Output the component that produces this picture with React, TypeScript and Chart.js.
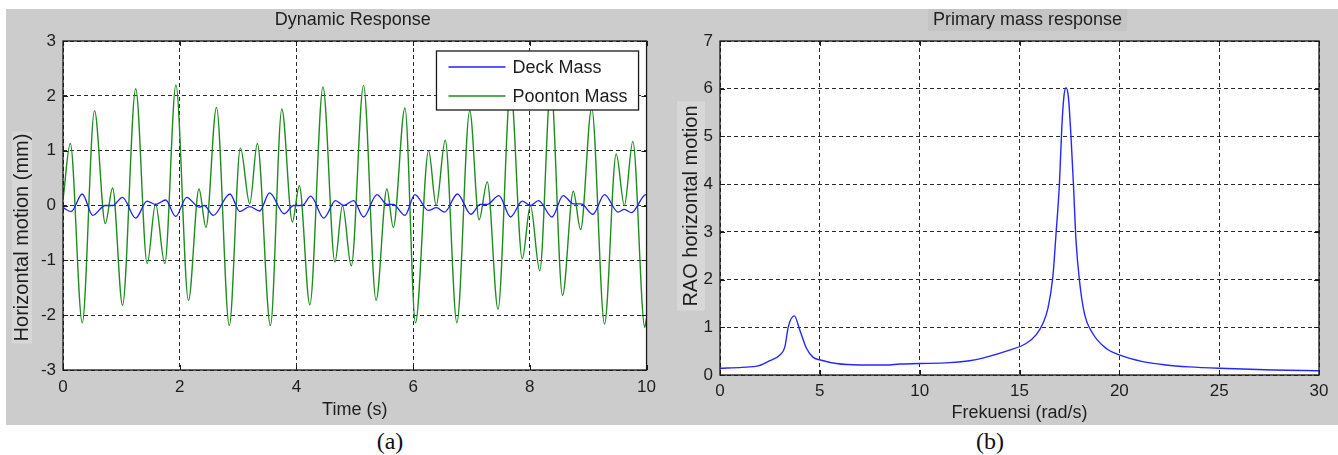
import React, { useEffect, useRef } from "react";
import { Chart, registerables } from "chart.js";

Chart.register(...registerables);

// ---------- data: panel (a) Dynamic Response ----------
const timeRange = [0, 10];
const motionRange = [-3, 3];

const deckTime = [0, 0.14, 0.33, 0.51, 0.72, 0.85, 1.02, 1.246, 1.44, 1.586, 1.76, 1.93, 2.12, 2.33, 2.42, 2.575, 2.86, 3.03, 3.2, 3.37, 3.54, 3.79, 3.95, 4.1, 4.245, 4.47, 4.67, 4.81, 4.98, 5.15, 5.38, 5.55, 5.66, 5.86, 6.03, 6.26, 6.4, 6.54, 6.76, 6.99, 7.15, 7.27, 7.47, 7.67, 7.87, 8.01, 8.15, 8.38, 8.57, 8.75, 8.88, 9.08, 9.28, 9.51, 9.62, 9.74, 9.99, 10];
const deckMotion = [-0.04, -0.11, 0.21, -0.18, 0.0, 0.0, 0.15, -0.23, 0.08, 0.02, 0.1, -0.2, 0.15, -0.03, 0.0, -0.18, 0.21, -0.11, -0.02, -0.1, 0.23, -0.15, 0.0, 0.0, 0.17, -0.23, 0.09, 0.0, 0.09, -0.21, 0.2, 0.02, 0.02, -0.18, 0.2, -0.09, -0.04, -0.12, 0.21, -0.16, 0.02, 0.02, 0.18, -0.21, 0.08, 0.0, 0.09, -0.21, 0.18, 0.03, 0.03, -0.16, 0.2, -0.12, -0.07, -0.13, 0.2, 0.2];

const pontoonTime = [0, 0.125, 0.33, 0.54, 0.725, 0.85, 1.02, 1.246, 1.443, 1.586, 1.744, 1.935, 2.15, 2.33, 2.45, 2.63, 2.85, 3.04, 3.2, 3.33, 3.555, 3.75, 3.93, 4.05, 4.23, 4.455, 4.66, 4.79, 4.94, 5.15, 5.365, 5.55, 5.66, 5.86, 6.04, 6.265, 6.395, 6.55, 6.75, 6.97, 7.13, 7.27, 7.455, 7.67, 7.87, 8.01, 8.17, 8.36, 8.56, 8.745, 8.87, 9.06, 9.28, 9.48, 9.62, 9.765, 9.97, 10];
const pontoonMotion = [0.1, 1.13, -2.14, 1.73, -0.33, 0.32, -1.82, 2.13, -1.06, 0.03, -1.06, 2.2, -1.73, 0.3, -0.4, 1.79, -2.19, 1.05, 0.03, 1.13, -2.19, 1.76, -0.3, 0.36, -1.81, 2.16, -1.03, 0.0, -1.1, 2.19, -1.73, 0.3, -0.4, 1.78, -2.14, 1.0, 0.0, 1.19, -2.14, 1.73, -0.26, 0.43, -1.89, 2.15, -0.97, 0.0, -1.19, 2.2, -1.64, 0.26, -0.44, 1.78, -2.16, 0.94, 0.0, 1.17, -2.22, -2.05];

// ---------- data: panel (b) Primary mass response ----------
const freqRange = [0, 30];
const raoRange = [0, 7];
const frequency = [0, 1.1, 1.9, 2.4, 3.0, 3.25, 3.42, 3.72, 4.0, 4.33, 4.67, 5.08, 5.83, 7.0, 8.33, 9.0, 10.0, 11.5, 12.5, 13.2, 14.5, 15.33, 15.83, 16.17, 16.42, 16.67, 16.83, 17.0, 17.12, 17.22, 17.33, 17.45, 17.58, 17.7, 17.83, 18.0, 18.25, 18.67, 19.33, 20.0, 21.17, 22.33, 23.5, 25.0, 27.7, 30];
const raoMotion = [0.14, 0.16, 0.19, 0.28, 0.42, 0.59, 1.01, 1.24, 0.94, 0.56, 0.37, 0.31, 0.24, 0.21, 0.21, 0.23, 0.24, 0.26, 0.3, 0.36, 0.52, 0.66, 0.84, 1.08, 1.39, 2.06, 2.96, 4.01, 5.2, 5.82, 6.02, 5.82, 4.99, 4.01, 2.82, 1.99, 1.29, 0.87, 0.56, 0.42, 0.28, 0.21, 0.17, 0.14, 0.105, 0.09];

const FAMILY = "'Liberation Sans', Arial, Helvetica, sans-serif";
const TEXT = "#1e1e1e";

const framePlugin = {
  id: "matlabFrame",
  beforeDraw(chart: any, _args: any, o: any) {
    const { ctx, chartArea: a } = chart;
    ctx.save();
    ctx.fillStyle = "#ffffff";
    ctx.fillRect(a.left, a.top, a.right - a.left, a.bottom - a.top);
    const cx = (a.left + a.right) / 2;
    if (o.titleBox) {
      ctx.font = `18px ${FAMILY}`;
      const w = ctx.measureText(o.title).width;
      ctx.fillStyle = o.titleBox;
      ctx.fillRect(cx + o.titleDx - w / 2 - 5, 0, w + 10, 22);
    }
    if (o.yBox) {
      ctx.font = `20px ${FAMILY}`;
      const w = ctx.measureText(o.yTitle).width;
      const yx = a.left + o.yDx;
      const yy = (a.top + a.bottom) / 2 + o.yDy;
      ctx.fillStyle = o.yBox;
      ctx.fillRect(yx - 10 - o.yPadX, yy - w / 2 - o.yPadY, 20 + 2 * o.yPadX, w + 2 * o.yPadY);
    }
    ctx.restore();
  },
  afterDraw(chart: any, _args: any, o: any) {
    const { ctx, chartArea: a, scales } = chart;
    ctx.save();
    // inward tick marks
    ctx.strokeStyle = "#1a1a1a";
    ctx.lineWidth = 1;
    ctx.setLineDash([]);
    scales.x.ticks.forEach((t: any) => {
      const px = Math.round(scales.x.getPixelForValue(t.value)) + 0.5;
      ctx.beginPath();
      ctx.moveTo(px, a.bottom);
      ctx.lineTo(px, a.bottom - 5);
      ctx.moveTo(px, a.top);
      ctx.lineTo(px, a.top + 5);
      ctx.stroke();
    });
    scales.y.ticks.forEach((t: any) => {
      const py = Math.round(scales.y.getPixelForValue(t.value)) + 0.5;
      ctx.beginPath();
      ctx.moveTo(a.left, py);
      ctx.lineTo(a.left + 5, py);
      ctx.moveTo(a.right, py);
      ctx.lineTo(a.right - 5, py);
      ctx.stroke();
    });
    // box
    ctx.lineWidth = 1.3;
    ctx.strokeStyle = "#1a1a1a";
    ctx.strokeRect(a.left, a.top, a.right - a.left, a.bottom - a.top);

    ctx.fillStyle = TEXT;
    ctx.textAlign = "center";
    ctx.textBaseline = "middle";
    const cx = (a.left + a.right) / 2;
    ctx.font = `18px ${FAMILY}`;
    ctx.fillText(o.title, cx + o.titleDx, a.top - 21);
    ctx.fillText(o.xTitle, cx, a.bottom + o.xTitleDy);
    ctx.save();
    ctx.translate(a.left + o.yDx, (a.top + a.bottom) / 2 + o.yDy);
    ctx.rotate(-Math.PI / 2);
    ctx.font = `20px ${FAMILY}`;
    ctx.fillText(o.yTitle, 0, 0);
    ctx.restore();

    if (o.legend) {
      ctx.font = `18px ${FAMILY}`;
      const ds = chart.data.datasets;
      let maxW = 0;
      ds.forEach((d: any) => (maxW = Math.max(maxW, ctx.measureText(d.label).width)));
      const w = 76 + maxW + 11;
      const h = 59;
      const bx = a.right - 8 - w;
      const by = a.top + 10;
      ctx.fillStyle = "#ffffff";
      ctx.fillRect(bx, by, w, h);
      ctx.lineWidth = 1.3;
      ctx.strokeStyle = "#1a1a1a";
      ctx.strokeRect(bx, by, w, h);
      ds.forEach((d: any, i: number) => {
        const ly = by + 16 + i * 29;
        ctx.strokeStyle = d.borderColor;
        ctx.lineWidth = 1.5;
        ctx.beginPath();
        ctx.moveTo(bx + 12, ly);
        ctx.lineTo(bx + 69, ly);
        ctx.stroke();
        ctx.fillStyle = TEXT;
        ctx.textAlign = "left";
        ctx.fillText(d.label, bx + 76, ly + 1);
      });
    }
    ctx.restore();
  },
};

function axisOptions(range: number[], step: number, pad: number, size: number, horizontal: boolean) {
  return {
    type: "linear" as const,
    min: range[0],
    max: range[1],
    ticks: {
      stepSize: step,
      padding: pad,
      color: TEXT,
      font: { family: FAMILY, size: 17 },
      maxRotation: 0,
      autoSkip: false,
    },
    grid: { color: "#2a2a2a", lineWidth: 1, drawTicks: false },
    border: { display: false, dash: [4, 3] },
    afterFit(s: any) {
      if (horizontal) s.height = size;
      else s.width = size;
    },
  };
}

function toPoints(xs: number[], ys: number[]) {
  return xs.map((x, i) => ({ x, y: ys[i] }));
}

export default function App() {
  const leftRef = useRef<HTMLCanvasElement | null>(null);
  const rightRef = useRef<HTMLCanvasElement | null>(null);

  useEffect(() => {
    const left = new Chart(leftRef.current as HTMLCanvasElement, {
      type: "line",
      data: {
        datasets: [
          {
            label: "Deck Mass",
            data: toPoints(deckTime, deckMotion),
            borderColor: "#1f1fff",
            borderWidth: 1.3,
            pointRadius: 0,
            cubicInterpolationMode: "monotone",
            fill: false,
          },
          {
            label: "Poonton Mass",
            data: toPoints(pontoonTime, pontoonMotion),
            borderColor: "#1e8c1e",
            borderWidth: 1.4,
            pointRadius: 0,
            cubicInterpolationMode: "monotone",
            fill: false,
          },
        ],
      },
      options: {
        responsive: false,
        animation: false,
        devicePixelRatio: 1,
        layout: { padding: { top: 32, right: 10, left: 0, bottom: 0 } },
        scales: {
          x: axisOptions(timeRange, 2, 7, 55, true),
          y: axisOptions(motionRange, 1, 7, 57, false),
        },
        plugins: {
          legend: { display: false },
          tooltip: { enabled: false },
          matlabFrame: {
            title: "Dynamic Response",
            titleDx: -2,
            xTitle: "Time (s)",
            xTitleDy: 40,
            yTitle: "Horizontal motion (mm)",
            yDx: -41,
            yDy: 32,
            yBox: "#d7d7d7",
            yPadX: 0,
            yPadY: 2,
            legend: true,
          },
        } as any,
      },
      plugins: [framePlugin],
    } as any);

    const right = new Chart(rightRef.current as HTMLCanvasElement, {
      type: "line",
      data: {
        datasets: [
          {
            label: "RAO",
            data: toPoints(frequency, raoMotion),
            borderColor: "#2626ff",
            borderWidth: 1.4,
            pointRadius: 0,
            cubicInterpolationMode: "monotone",
            fill: false,
          },
        ],
      },
      options: {
        responsive: false,
        animation: false,
        devicePixelRatio: 1,
        layout: { padding: { top: 32, right: 19, left: 0, bottom: 0 } },
        scales: {
          x: axisOptions(freqRange, 5, 6, 50, true),
          y: axisOptions(raoRange, 1, 7, 57, false),
        },
        plugins: {
          legend: { display: false },
          tooltip: { enabled: false },
          matlabFrame: {
            title: "Primary mass response",
            titleDx: 8,
            titleBox: "#c4c4c4",
            xTitle: "Frekuensi (rad/s)",
            xTitleDy: 38,
            yTitle: "RAO horizontal motion",
            yDx: -29,
            yDy: -2,
            yBox: "#d7d7d7",
            yPadX: 4,
            yPadY: 4,
            legend: false,
          },
        } as any,
      },
      plugins: [framePlugin],
    } as any);

    return () => {
      left.destroy();
      right.destroy();
    };
  }, []);

  const caption: React.CSSProperties = {
    position: "absolute",
    top: 426,
    width: 60,
    textAlign: "center",
    fontFamily: "'Liberation Serif', 'DejaVu Serif', serif",
    fontSize: 24,
    lineHeight: "30px",
    color: "#111",
  };

  return (
    <div style={{ position: "absolute", left: 0, top: 0, width: 1338, height: 455, background: "#ffffff", overflow: "hidden" }}>
      <div style={{ position: "absolute", left: 6, top: 9, width: 1332, height: 416, background: "#cccccc" }} />
      <canvas ref={leftRef} width={657} height={416} style={{ position: "absolute", left: 6, top: 9 }} />
      <canvas ref={rightRef} width={675} height={416} style={{ position: "absolute", left: 663, top: 9 }} />
      <div style={{ ...caption, left: 360 }}>(a)</div>
      <div style={{ ...caption, left: 960 }}>(b)</div>
    </div>
  );
}
